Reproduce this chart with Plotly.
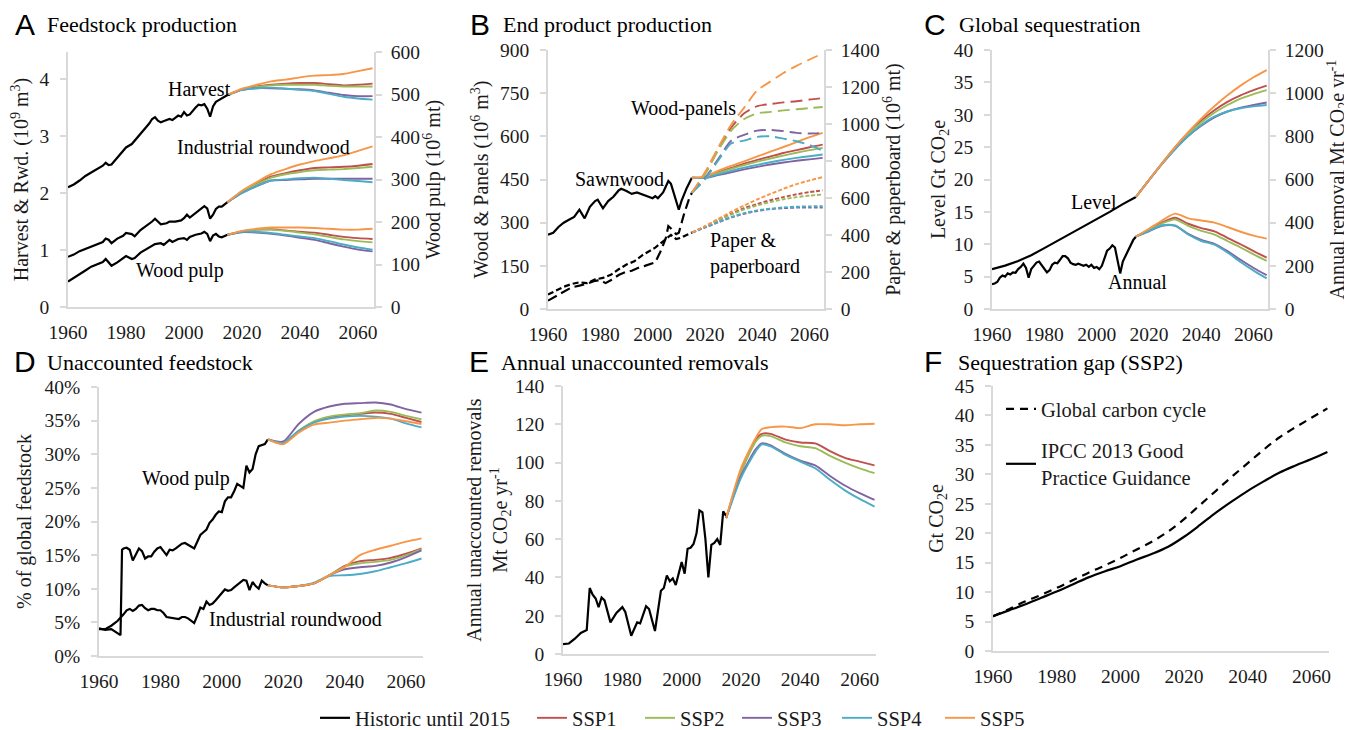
import plotly.graph_objects as go

W, H = 1352, 730
OX, OY = 8, 8  # page body margin offset

ssp_names = ["SSP1", "SSP2", "SSP3", "SSP4", "SSP5"]
ssp_colors = ["#c0504d", "#9bbb59", "#8064a2", "#4bacc6", "#f79646"]
proj_years = [2015, 2020, 2025, 2030, 2035, 2040, 2045, 2050, 2055, 2060, 2065]
tick_years = [1960, 1980, 2000, 2020, 2040, 2060]

# ---- A: feedstock production ----
harvest_hist = [(1960, 2.10), (1962, 2.15), (1964, 2.22), (1966, 2.30), (1968, 2.36), (1970, 2.42),
                (1972, 2.48), (1973, 2.53), (1974, 2.49), (1975, 2.50), (1977, 2.62), (1979, 2.76),
                (1980, 2.80), (1982, 2.86), (1984, 2.98), (1986, 3.08), (1988, 3.22), (1989, 3.30),
                (1990, 3.33), (1991, 3.27), (1992, 3.24), (1994, 3.28), (1995, 3.30), (1996, 3.28),
                (1998, 3.36), (1999, 3.34), (2000, 3.42), (2001, 3.36), (2002, 3.38), (2004, 3.50),
                (2005, 3.55), (2006, 3.54), (2007, 3.56), (2008, 3.48), (2009, 3.34), (2010, 3.52),
                (2011, 3.60), (2012, 3.63), (2013, 3.66), (2014, 3.69), (2015, 3.72)]
harvest_ssp = [[3.72, 3.82, 3.87, 3.90, 3.92, 3.93, 3.93, 3.91, 3.89, 3.90, 3.92],
               [3.72, 3.82, 3.86, 3.89, 3.90, 3.90, 3.90, 3.88, 3.87, 3.87, 3.87],
               [3.72, 3.81, 3.84, 3.84, 3.83, 3.82, 3.80, 3.76, 3.72, 3.70, 3.70],
               [3.72, 3.81, 3.84, 3.85, 3.83, 3.81, 3.79, 3.74, 3.69, 3.66, 3.64],
               [3.72, 3.83, 3.90, 3.96, 3.99, 4.03, 4.06, 4.07, 4.09, 4.14, 4.19]]

roundwood_hist = [(1960, 0.88), (1962, 0.92), (1964, 0.98), (1966, 1.02), (1968, 1.06), (1970, 1.10),
                  (1972, 1.14), (1973, 1.20), (1974, 1.18), (1975, 1.12), (1977, 1.20), (1979, 1.25),
                  (1980, 1.30), (1982, 1.28), (1983, 1.24), (1985, 1.35), (1987, 1.42), (1989, 1.50),
                  (1990, 1.55), (1991, 1.50), (1992, 1.45), (1994, 1.47), (1995, 1.50), (1997, 1.50),
                  (1999, 1.52), (2000, 1.56), (2001, 1.62), (2002, 1.57), (2004, 1.65), (2006, 1.72),
                  (2007, 1.77), (2008, 1.73), (2009, 1.55), (2010, 1.62), (2011, 1.72), (2012, 1.76),
                  (2013, 1.76), (2014, 1.80), (2015, 1.84)]
roundwood_ssp = [[1.84, 2.02, 2.16, 2.29, 2.35, 2.40, 2.44, 2.45, 2.46, 2.48, 2.51],
                 [1.84, 2.02, 2.15, 2.27, 2.33, 2.37, 2.40, 2.41, 2.42, 2.44, 2.46],
                 [1.84, 2.00, 2.12, 2.22, 2.23, 2.24, 2.25, 2.25, 2.25, 2.25, 2.25],
                 [1.84, 2.00, 2.12, 2.22, 2.24, 2.26, 2.27, 2.25, 2.23, 2.21, 2.19],
                 [1.84, 2.04, 2.19, 2.33, 2.42, 2.50, 2.56, 2.61, 2.66, 2.74, 2.82]]

pulp_hist = [(1960, 60), (1962, 68), (1964, 78), (1966, 86), (1968, 95), (1970, 100), (1972, 106),
             (1973, 113), (1974, 106), (1975, 97), (1977, 105), (1979, 115), (1980, 120), (1982, 113),
             (1983, 115), (1985, 128), (1987, 136), (1989, 145), (1990, 148), (1992, 150), (1993, 146),
             (1995, 158), (1996, 153), (1998, 160), (2000, 162), (2001, 158), (2002, 165), (2004, 170),
             (2006, 173), (2007, 177), (2008, 172), (2009, 155), (2010, 168), (2011, 172), (2012, 166),
             (2013, 164), (2014, 167), (2015, 170)]
pulp_ssp = [[170, 178, 182, 183, 180, 177, 175, 170, 165, 162, 160],
            [170, 178, 182, 182, 179, 175, 171, 165, 159, 155, 152],
            [170, 176, 175, 172, 168, 163, 158, 150, 142, 135, 131],
            [170, 177, 177, 174, 170, 166, 162, 155, 147, 140, 135],
            [170, 179, 184, 187, 187, 187, 186, 184, 182, 182, 184]]

# ---- B: end product production ----
sawn_hist = [(1960, 258), (1962, 265), (1964, 285), (1966, 300), (1968, 310), (1970, 320), (1972, 345),
             (1974, 315), (1976, 355), (1978, 375), (1979, 380), (1981, 350), (1983, 375), (1985, 390),
             (1987, 412), (1988, 418), (1990, 410), (1992, 400), (1994, 405), (1996, 398), (1998, 392),
             (2000, 385), (2001, 392), (2002, 385), (2004, 405), (2006, 445), (2007, 435), (2009, 370),
             (2010, 345), (2011, 375), (2013, 420), (2015, 456)]
sawn_ssp = [[456, 458, 475, 490, 505, 518, 530, 542, 552, 562, 571],
            [456, 458, 473, 487, 500, 512, 523, 533, 543, 552, 560],
            [456, 455, 465, 475, 485, 494, 502, 509, 515, 520, 525],
            [456, 456, 468, 480, 491, 501, 510, 518, 525, 531, 537],
            [456, 460, 480, 497, 513, 530, 547, 563, 580, 597, 612]]

panels_hist = [(1960, 29), (1963, 45), (1966, 62), (1969, 75), (1972, 81), (1975, 88), (1978, 98),
               (1980, 100), (1982, 90), (1984, 100), (1987, 118), (1990, 130), (1992, 133), (1995, 145),
               (1997, 150), (2000, 158), (2001, 162), (2003, 200), (2005, 245), (2006, 288), (2007, 280),
               (2009, 260), (2010, 265), (2012, 330), (2014, 385), (2015, 404)]
panels_ssp = [[404, 470, 555, 630, 680, 705, 712, 718, 722, 728, 733],
              [404, 468, 550, 620, 660, 680, 685, 690, 694, 698, 702],
              [404, 455, 520, 585, 605, 620, 622, 618, 612, 610, 612],
              [404, 450, 515, 575, 585, 598, 600, 592, 583, 570, 550],
              [404, 475, 560, 640, 700, 760, 790, 820, 845, 867, 888]]

paper_hist = [(1960, 78), (1963, 100), (1966, 120), (1969, 135), (1972, 144), (1975, 140), (1978, 160),
              (1981, 168), (1984, 185), (1987, 215), (1990, 240), (1993, 258), (1996, 290), (1999, 315),
              (2001, 332), (2003, 355), (2005, 380), (2007, 400), (2009, 378), (2011, 386), (2013, 400),
              (2015, 413)]
paper_ssp = [[413, 445, 480, 515, 545, 568, 588, 605, 620, 632, 641],
             [413, 445, 478, 510, 538, 560, 578, 593, 605, 613, 619],
             [413, 440, 468, 495, 515, 530, 540, 545, 548, 548, 548],
             [413, 442, 470, 497, 518, 533, 542, 549, 553, 555, 556],
             [413, 448, 486, 525, 560, 592, 622, 650, 675, 695, 713]]

# ---- C: global sequestration ----
level_hist = [(1960, 6.15), (1965, 6.7), (1970, 7.4), (1975, 8.3), (1980, 9.4), (1985, 10.5),
              (1990, 11.7), (1995, 12.7), (2000, 13.8), (2005, 15.0), (2010, 16.2), (2015, 17.3)]
level_ssp = [[17.3, 19.9, 22.5, 25.0, 27.2, 29.1, 30.7, 32.0, 33.0, 33.8, 34.5],
             [17.3, 19.9, 22.5, 24.9, 27.0, 28.8, 30.3, 31.5, 32.5, 33.2, 33.8],
             [17.3, 19.9, 22.4, 24.7, 26.7, 28.3, 29.6, 30.5, 31.1, 31.5, 31.9],
             [17.3, 19.9, 22.4, 24.7, 26.7, 28.4, 29.7, 30.5, 31.0, 31.3, 31.5],
             [17.3, 19.9, 22.5, 25.0, 27.3, 29.4, 31.3, 33.0, 34.5, 35.8, 36.9]]

annual_hist = [(1960, 115), (1961, 118), (1962, 125), (1963, 145), (1964, 155), (1965, 150), (1966, 165),
               (1967, 160), (1968, 170), (1969, 168), (1970, 185), (1971, 195), (1972, 210), (1973, 190),
               (1974, 145), (1975, 185), (1976, 200), (1977, 215), (1978, 220), (1979, 205), (1980, 190),
               (1981, 170), (1982, 180), (1983, 205), (1984, 215), (1985, 212), (1986, 228), (1987, 245),
               (1988, 245), (1989, 235), (1990, 215), (1991, 208), (1992, 205), (1993, 210), (1994, 205),
               (1995, 200), (1996, 205), (1997, 195), (1998, 205), (1999, 190), (2000, 195), (2001, 185),
               (2002, 200), (2003, 240), (2004, 270), (2005, 280), (2006, 295), (2007, 285), (2008, 230),
               (2009, 165), (2010, 220), (2011, 245), (2012, 265), (2013, 295), (2014, 320), (2015, 335)]
annual_ssp = [[335, 368, 400, 423, 395, 375, 360, 330, 300, 268, 238],
              [335, 366, 396, 415, 385, 362, 345, 315, 285, 253, 223],
              [335, 360, 385, 385, 348, 320, 302, 268, 228, 190, 157],
              [335, 362, 388, 387, 345, 315, 298, 262, 218, 178, 142],
              [335, 372, 410, 442, 420, 410, 400, 380, 358, 340, 326]]

# ---- D: unaccounted feedstock (%) ----
pulp_pct_hist = [(1960, 4.1), (1962, 3.9), (1964, 4.0), (1966, 3.4), (1967, 3.1), (1967.5, 15.8),
                 (1968, 16.0), (1969, 16.1), (1970, 15.8), (1971, 14.2), (1972, 15.0), (1973, 16.0),
                 (1974, 15.6), (1975, 14.5), (1976, 14.8), (1977, 14.8), (1978, 15.5), (1979, 16.0),
                 (1980, 16.2), (1981, 15.5), (1982, 15.0), (1983, 15.8), (1984, 15.7), (1985, 16.0),
                 (1986, 16.3), (1987, 16.7), (1988, 16.8), (1989, 16.5), (1990, 16.2), (1991, 16.0),
                 (1992, 17.0), (1993, 18.0), (1994, 18.4), (1995, 18.8), (1996, 19.8), (1997, 20.3),
                 (1998, 21.0), (1999, 21.5), (2000, 21.4), (2001, 23.0), (2002, 23.6), (2003, 23.6),
                 (2004, 24.5), (2005, 25.6), (2006, 25.3), (2007, 25.0), (2008, 28.3), (2009, 27.3),
                 (2010, 27.8), (2011, 30.0), (2012, 31.2), (2013, 31.3), (2014, 31.5), (2015, 32.2)]
pulp_pct_ssp = [[32.2, 31.6, 33.4, 34.8, 35.5, 35.8, 36.0, 36.2, 36.0, 35.4, 34.8],
                [32.2, 31.6, 33.5, 34.9, 35.6, 35.9, 36.1, 36.5, 36.3, 35.7, 35.2],
                [32.2, 31.9, 34.5, 36.3, 37.1, 37.5, 37.6, 37.7, 37.4, 36.7, 36.2],
                [32.2, 31.7, 33.5, 34.7, 35.3, 35.6, 35.7, 35.6, 35.3, 34.6, 34.0],
                [32.2, 31.5, 33.2, 34.4, 34.7, 35.0, 35.2, 35.4, 35.3, 34.9, 34.5]]

rwd_pct_hist = [(1960, 4.0), (1962, 4.0), (1964, 4.5), (1966, 5.2), (1968, 6.2), (1969, 6.8), (1970, 7.0),
                (1971, 6.7), (1972, 7.0), (1973, 7.5), (1974, 7.6), (1975, 7.1), (1976, 6.8), (1977, 7.0),
                (1978, 7.0), (1979, 6.8), (1980, 6.8), (1981, 6.4), (1982, 5.8), (1983, 5.7), (1984, 5.7),
                (1985, 5.6), (1986, 5.5), (1987, 5.8), (1988, 5.8), (1989, 5.6), (1990, 5.2), (1991, 4.9),
                (1992, 6.0), (1993, 7.2), (1994, 7.0), (1995, 8.1), (1996, 7.6), (1997, 7.8), (1998, 8.3),
                (1999, 8.8), (2000, 9.4), (2001, 9.9), (2002, 9.7), (2003, 9.8), (2004, 10.2), (2005, 10.6),
                (2006, 11.0), (2007, 11.3), (2008, 11.2), (2009, 9.8), (2010, 11.0), (2011, 10.4),
                (2012, 10.0), (2013, 11.2), (2014, 10.8), (2015, 10.5)]
rwd_pct_ssp = [[10.5, 10.2, 10.4, 10.8, 12.0, 13.4, 14.1, 14.3, 14.6, 15.2, 16.0],
               [10.5, 10.2, 10.4, 10.8, 12.0, 13.3, 13.8, 14.0, 14.3, 15.0, 15.9],
               [10.5, 10.2, 10.4, 10.8, 12.0, 12.9, 13.2, 13.4, 13.9, 14.7, 15.7],
               [10.5, 10.2, 10.4, 10.9, 11.9, 12.0, 12.2, 12.6, 13.2, 13.8, 14.5],
               [10.5, 10.2, 10.4, 10.8, 12.0, 13.2, 15.0, 15.8, 16.4, 17.0, 17.5]]

# ---- E: annual unaccounted removals ----
removals_hist = [(1960, 5.2), (1962, 5.5), (1964, 8.0), (1966, 11.0), (1968, 12.5), (1969, 34.5),
                 (1970, 31.0), (1971, 29.0), (1972, 24.5), (1973, 29.5), (1974, 28.0), (1976, 16.5),
                 (1978, 21.5), (1980, 24.5), (1981, 22.0), (1983, 9.5), (1985, 16.5), (1986, 16.0),
                 (1988, 25.0), (1989, 23.5), (1991, 12.0), (1993, 33.0), (1994, 34.5), (1995, 41.0),
                 (1996, 38.0), (1997, 39.5), (1998, 36.0), (2000, 48.0), (2001, 42.0), (2002, 55.0),
                 (2003, 55.5), (2004, 57.5), (2005, 63.0), (2006, 75.0), (2007, 74.0), (2008, 60.0),
                 (2009, 40.0), (2010, 57.0), (2011, 58.0), (2012, 60.0), (2013, 57.0), (2014, 74.5),
                 (2015, 72.0)]
removals_years = [2015, 2020, 2025, 2027, 2030, 2035, 2040, 2045, 2050, 2055, 2060, 2065]
removals_ssp = [[71, 95, 112, 115, 115, 112, 110.5, 110, 106, 102.5, 100.5, 98.5],
                [71, 95, 111, 114, 113.8, 110.5, 108.5, 107.5, 103.5, 100, 97, 94.5],
                [71, 93, 107, 110, 109, 104.5, 101, 98.5, 93, 88, 84, 80.5],
                [71, 92, 106, 109.5, 108.5, 104, 100.5, 97, 91, 85.5, 81, 77],
                [71, 97, 113, 117.5, 118.5, 118.8, 118, 120, 120, 119.5, 120, 120.3]]

# ---- F: sequestration gap (SSP2) ----
gap_years = list(range(1960, 2066, 5))
carbon_cycle = [5.9, 7.1, 8.4, 9.5, 10.7, 12.0, 13.3, 14.5, 15.8, 17.2, 18.6, 20.3,
                22.4, 24.8, 27.2, 29.6, 31.9, 34.2, 36.3, 38.0, 39.6, 41.2]
ipcc_gpg = [5.9, 6.9, 7.9, 9.0, 10.1, 11.3, 12.5, 13.5, 14.4, 15.5, 16.5, 17.7,
            19.4, 21.4, 23.5, 25.4, 27.2, 28.8, 30.3, 31.5, 32.6, 33.8]

SERIF = "Liberation Serif"
SANS = "Liberation Sans"
AXC = "#d9d9d9"
TXT = "#1a1a1a"

fig = go.Figure()


def add_hist(pairs, xa, ya, dash="solid", legend=None):
    fig.add_trace(go.Scatter(x=[p[0] for p in pairs], y=[p[1] for p in pairs], mode="lines",
                             line=dict(color="black", width=2.2, dash=dash), xaxis=xa, yaxis=ya,
                             name="Historic until 2015", legend=legend or "legend",
                             showlegend=legend is not None, hoverinfo="skip"))


def add_proj(years, series, xa, ya, dash="solid", legends=None):
    for i, (name, col, vals) in enumerate(zip(ssp_names, ssp_colors, series)):
        fig.add_trace(go.Scatter(x=years, y=vals, mode="lines",
                                 line=dict(color=col, width=1.9, dash=dash, shape="spline", smoothing=0.7),
                                 xaxis=xa, yaxis=ya, name=name,
                                 legend=legends[i] if legends else "legend",
                                 showlegend=legends is not None, hoverinfo="skip"))


ssp_legends = ["legend3", "legend4", "legend5", "legend6", "legend7"]

# A
add_hist(harvest_hist, "x", "y", legend="legend")
add_proj(proj_years, harvest_ssp, "x", "y", legends=ssp_legends)
add_hist(roundwood_hist, "x", "y")
add_proj(proj_years, roundwood_ssp, "x", "y")
add_hist(pulp_hist, "x", "y7")
add_proj(proj_years, pulp_ssp, "x", "y7")
# B
add_hist(sawn_hist, "x2", "y2")
add_proj(proj_years, sawn_ssp, "x2", "y2")
add_hist(panels_hist, "x2", "y2", dash="10px,5px")
add_proj(proj_years, panels_ssp, "x2", "y2", dash="12px,6px")
add_hist(paper_hist, "x2", "y8", dash="6px,3px")
add_proj(proj_years, paper_ssp, "x2", "y8", dash="4px,2px")
# C
add_hist(level_hist, "x3", "y3")
add_proj(proj_years, level_ssp, "x3", "y3")
add_hist(annual_hist, "x3", "y9")
add_proj(proj_years, annual_ssp, "x3", "y9")
# D
add_hist(pulp_pct_hist, "x4", "y4")
add_proj(proj_years, pulp_pct_ssp, "x4", "y4")
add_hist(rwd_pct_hist, "x4", "y4")
add_proj(proj_years, rwd_pct_ssp, "x4", "y4")
# E
add_hist(removals_hist, "x5", "y5")
add_proj(removals_years, removals_ssp, "x5", "y5")
# F
fig.add_trace(go.Scatter(x=gap_years, y=carbon_cycle, mode="lines", name="Global carbon cycle",
                         line=dict(color="black", width=2.2, dash="8px,6px", shape="spline"),
                         xaxis="x6", yaxis="y6", legend="legend2", legendgroup="gcc", hoverinfo="skip"))
fig.add_trace(go.Scatter(x=gap_years, y=ipcc_gpg, mode="lines", name="IPCC 2013 Good<br>Practice Guidance",
                         line=dict(color="black", width=2.2, shape="spline"),
                         xaxis="x6", yaxis="y6", legend="legend2", legendgroup="ipcc", hoverinfo="skip"))


def fx(px):
    return (px - OX) / W


def fy(px):
    return 1 - (px - OY) / H


def px_x(a, b):
    return [fx(a), fx(b)]


def px_y(top, bottom):
    return [fy(bottom), fy(top)]


tickfont = dict(family=SERIF, size=19.5, color=TXT)
titlefont = dict(family=SERIF, size=20, color=TXT)


def xax(dom, anchor):
    return dict(domain=dom, anchor=anchor, range=[1960, 2065.5], tickvals=tick_years,
                showline=True, linecolor=AXC, linewidth=1.5, ticks="", showgrid=False,
                zeroline=False, tickfont=tickfont, ticklabelstandoff=7, fixedrange=True)


def yax(anchor, rng, dtick, title, standoff, dom=None, side="left", overlay=None, suffix="", pad=7):
    d = dict(anchor=anchor, range=rng, dtick=dtick, side=side, showline=True, linecolor=AXC,
             linewidth=1.5, ticks="outside", ticklen=6, tickwidth=1.5, tickcolor=AXC,
             showgrid=False, zeroline=False, tickfont=tickfont, ticklabelstandoff=pad,
             ticksuffix=suffix, title=dict(text=title, font=titlefont, standoff=standoff))
    if dom is not None:
        d["domain"] = dom
    if overlay:
        d["overlaying"] = overlay
    return d


top_row = px_y(50, 309)
bot_row = px_y(386, 654)

layout_axes = dict(
    xaxis=xax(px_x(68, 374), "y"),
    xaxis2=xax(px_x(548, 824), "y2"),
    xaxis3=xax(px_x(992, 1268), "y3"),
    xaxis4=xax(px_x(99, 423), "y4"),
    xaxis5=xax(px_x(563, 876), "y5"),
    xaxis6=xax(px_x(993, 1329), "y6"),
    yaxis=yax("x", [0, 4.475], 1, "Harvest &amp; Rwd. (10<sup>9</sup> m<sup>3</sup>)", 6, dom=px_y(52, 307)),
    yaxis7=yax("x", [0, 600], 100, "Wood pulp (10<sup>6</sup> mt)", 5, side="right", overlay="y", pad=5),
    yaxis2=yax("x2", [0, 900], 150, "Wood &amp; Panels (10<sup>6</sup> m<sup>3</sup>)", 6, dom=top_row),
    yaxis8=yax("x2", [0, 1400], 200, "Paper &amp; paperboard (10<sup>6</sup> mt)", 4, side="right", overlay="y2", pad=5),
    yaxis3=yax("x3", [0, 40], 5, "Level Gt CO<sub>2</sub>e", 3, dom=top_row),
    yaxis9=yax("x3", [0, 1200], 200, "Annual removal Mt CO<sub>2</sub>e yr<sup>-1</sup>", 4, side="right", overlay="y3", pad=5),
    yaxis4=yax("x4", [0, 40], 5, "% of global feedstock", 8, dom=px_y(387, 656), suffix="%"),
    yaxis5=yax("x5", [0, 140], 20, "Annual unaccounted removals<br>Mt CO<sub>2</sub>e yr<sup>-1</sup>", 2, dom=bot_row),
    yaxis6=yax("x6", [0, 45], 5, "Gt CO<sub>2</sub>e", 6, dom=px_y(386, 651)),
)

annotations = []


def note(text, x, y, size=20, family=SERIF, xanchor="center", align="center"):
    annotations.append(dict(text=text, x=fx(x), y=fy(y), xref="paper", yref="paper",
                            showarrow=False, xanchor=xanchor, yanchor="middle", align=align,
                            font=dict(family=family, size=size, color="black")))


# panel letters and titles
for letter, lx, tx, ty, title in [("A", 13, 45, 25, "Feedstock production"),
                                  ("B", 468, 501, 25, "End product production"),
                                  ("C", 922, 957, 25, "Global sequestration"),
                                  ("D", 12, 45, 362, "Unaccounted feedstock"),
                                  ("E", 467, 499, 362, "Annual unaccounted removals"),
                                  ("F", 922, 956, 362, "Sequestration gap (SSP2)")]:
    note(letter, lx, ty - 1, size=30, family=SANS, xanchor="left")
    note(title, tx, ty, size=22, xanchor="left")

# in-plot labels
note("Harvest", 199, 89)
note("Industrial roundwood", 263, 147)
note("Wood pulp", 180, 270)
note("Wood-panels", 683, 109)
note("Sawnwood", 619, 179)
note("Paper &amp;<br>paperboard", 708, 253, xanchor="left", align="left")
note("Level", 1094, 202)
note("Annual", 1137, 282)
note("Wood pulp", 186, 479)
note("Industrial roundwood", 295, 619)

legend_font = dict(family=SERIF, size=20.5, color=TXT)


def legend_at(text_left_px, y_px):
    return dict(x=fx(text_left_px - 40), xanchor="left", y=fy(y_px), yanchor="middle",
                font=legend_font, itemwidth=30, bgcolor="rgba(0,0,0,0)", orientation="h")


bottom_legends = {"legend": legend_at(355, 718)}
for key, left in zip(ssp_legends, [572, 680, 777, 877, 980]):
    bottom_legends[key] = legend_at(left, 718)

fig.update_layout(
    width=W, height=H, template="none",
    paper_bgcolor="white", plot_bgcolor="white",
    margin=dict(l=0, r=0, t=0, b=0),
    font=dict(family=SERIF, size=20, color=TXT),
    annotations=annotations,
    legend2=dict(x=fx(1001), xanchor="left", y=fy(389), yanchor="top",
                 font=legend_font, itemwidth=30,
                 bgcolor="rgba(0,0,0,0)", traceorder="grouped", tracegroupgap=12),
    hovermode=False,
    **bottom_legends,
    **layout_axes,
)

fig.write_html("out.html")
